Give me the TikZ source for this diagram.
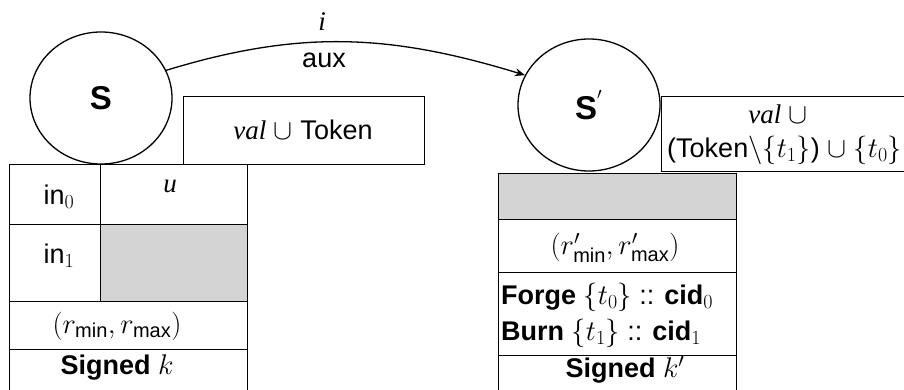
\RequirePackage{fix-cm}
\documentclass[tikz,border=0pt]{standalone}
\usepackage{amsmath}
\usepackage{fontspec}
\setmainfont{Liberation Sans}
\newfontfamily\tms{Liberation Serif}
\DeclareMathSizes{27}{28.5}{20}{15}
\usetikzlibrary{shapes.geometric,arrows.meta}
\newcommand{\vr}[1]{{\tms\itshape #1}}
\begin{document}
\begin{tikzpicture}[x=1pt,y=-1pt,
  every node/.style={font=\fontsize{27}{32}\selectfont},
  state/.style={draw,ellipse,line width=1.3pt,minimum width=142pt,minimum height=132pt,inner sep=0pt,font=\fontsize{33}{36}\selectfont\bfseries},
  cell/.style={draw,line width=1.3pt,rectangle,inner sep=0pt,anchor=north west},
  grey/.style={fill=black!17},
  lbl/.style={inner sep=0pt}]
\useasboundingbox (0,0) rectangle (904,389);
% left state
\node[state] (s) at (101,98) {S};
\node[cell,minimum width=241pt,minimum height=68pt] (box1) at (183,96) {};
\node[lbl] (t1) at (303,130) {\vr{val} $\cup$ Token};
% left table
\node[cell,minimum width=91pt,minimum height=60pt] (c00) at (9,164) {};
\node[cell,minimum width=147pt,minimum height=60pt] (c01) at (100,164) {};
\node[cell,minimum width=91pt,minimum height=77pt] (c10) at (9,224) {};
\node[cell,grey,minimum width=147pt,minimum height=77pt] (c11) at (100,224) {};
\node[cell,minimum width=238pt,minimum height=48pt] (c2) at (9,301) {};
\node[cell,minimum width=238pt,minimum height=45pt] (c3) at (9,349) {};
\node[lbl] (in0) at (59,197) {in$_0$};
\node[lbl] (u) at (170,186) {\vr{u}};
\node[lbl] (in1) at (59,256) {in$_1$};
\node[lbl] (rr) at (117,326) {$(r_{\text{min}}, r_{\text{max}})$};
\node[lbl] (sk) at (117,367) {\textbf{Signed} $k$};
% right state
\node[state] (s2) at (589,105) {S$^{'}$};
\node[cell,minimum width=250pt,minimum height=75pt] (box2) at (661,96) {};
\node[lbl] (t2a) at (778,114) {\vr{val} $\cup$};
\node[lbl,anchor=west] (t2b) at (667,150) {(Token$\backslash\{t_1\}$) $\cup$ $\{t_0\}$};
% right table
\node[cell,grey,minimum width=238pt,minimum height=46pt] (d0) at (498,173) {};
\node[cell,minimum width=238pt,minimum height=53pt] (d1) at (498,219) {};
\node[cell,minimum width=238pt,minimum height=83pt] (d2) at (498,272) {};
\node[cell,minimum width=238pt,minimum height=40pt] (d3) at (498,355) {};
\node[lbl] (rr2) at (615,248) {$(r'_{\text{min}}, r'_{\text{max}})$};
\node[lbl,anchor=west] (fg) at (501,297) {\textbf{Forge} $\{t_0\}$ :: $\text{\bfseries cid}_0$};
\node[lbl,anchor=west] (bn) at (501,333) {\textbf{Burn} $\{t_1\}$ :: $\text{\bfseries cid}_1$};
\node[lbl] (sk2) at (625,370) {\textbf{Signed} $k'$};
% transition
\draw[line width=1.3pt,-{Stealth[length=10pt,width=8pt]}] (s.23) to[out=17,in=163] (s2.155);
\node[lbl] (li) at (322,22) {\vr{i}};
\node[lbl] (la) at (324,60) {aux};
\end{tikzpicture}
\end{document}
